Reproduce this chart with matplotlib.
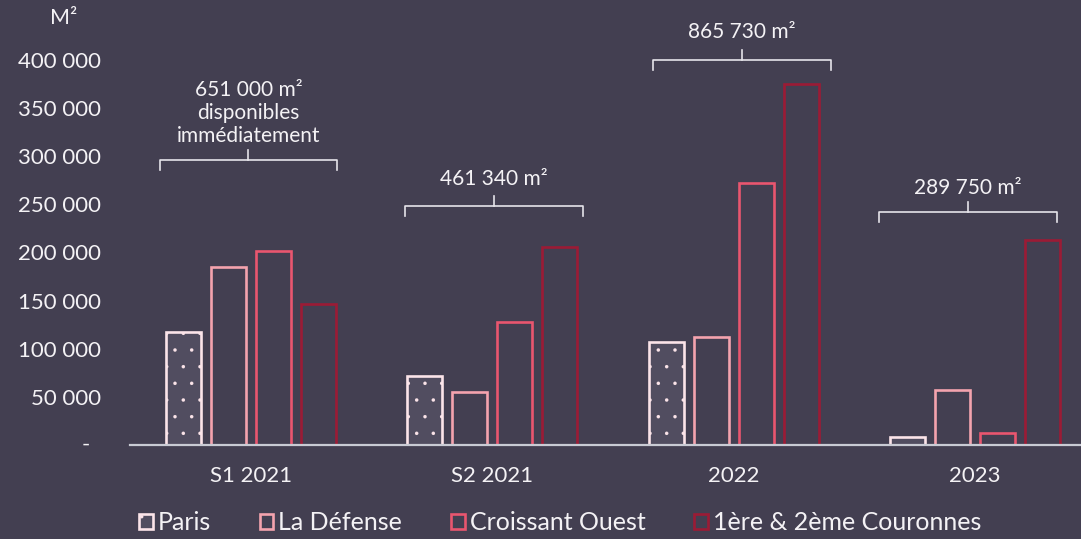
import matplotlib
matplotlib.use("Agg")
import matplotlib.pyplot as plt
from matplotlib.patches import Patch
from matplotlib.ticker import FuncFormatter
import numpy as np

# ---- data ----
periods = ["S1 2021", "S2 2021", "2022", "2023"]
series_names = ["Paris", "La Défense", "Croissant Ouest", "1ère & 2ème Couronnes"]
paris = [117000, 72000, 107000, 8000]
la_defense = [185000, 55000, 112000, 57000]
croissant_ouest = [202000, 128000, 272000, 12000]
couronnes = [147000, 206000, 375000, 213000]
totals_labels = ["651 000 m²\ndisponibles\nimmédiatement", "461 340 m²", "865 730 m²", "289 750 m²"]
y_ticks = [0, 50000, 100000, 150000, 200000, 250000, 300000, 350000, 400000]

# ---- style ----
BG = "#433F51"
TXT = "#F4F2F5"
edge_colors = ["#FBE4E9", "#F4A3AE", "#E9566F", "#9B1B35"]
face_colors = ["#514D60", BG, BG, BG]
hatches = [".", None, None, None]

plt.rcParams['font.family'] = ['Lato', 'DejaVu Sans']
plt.rcParams['hatch.linewidth'] = 0.1

fig = plt.figure(figsize=(10.81, 5.39), dpi=100, facecolor=BG)
ax = fig.add_axes([0.1203, 0.1744, 0.8797, 0.7143])
ax.set_facecolor(BG)

values = [paris, la_defense, croissant_ouest, couronnes]
x = np.arange(len(periods))
step = 0.1865
width = 0.145
for i, (vals, ec, fc, h) in enumerate(zip(values, edge_colors, face_colors, hatches)):
    offs = (i - 1.5) * step
    ax.bar(x + offs, vals, width=width, facecolor=fc, edgecolor=ec,
           linewidth=1.9, hatch=h, zorder=3)

ax.set_xlim(-0.501, 3.44)
ax.set_ylim(0, 400000)
ax.set_yticks(y_ticks)
ax.yaxis.set_major_formatter(FuncFormatter(
    lambda v, p: "" if v == 0 else f"{int(v):,}".replace(",", " ")))
ax.set_xticks(x)
ax.set_xticklabels(periods)
ax.tick_params(axis='y', length=0, pad=21, labelsize=16, labelcolor=TXT)
ax.tick_params(axis='x', length=0, pad=15, labelsize=16, labelcolor=TXT)
for s in ["top", "right", "left"]:
    ax.spines[s].set_visible(False)
ax.spines["bottom"].set_color("#C9CBD4")
ax.spines["bottom"].set_linewidth(1.6)
ax.spines["bottom"].set_zorder(4)

# zero label "-"
ax.text(-0.5 - 45 / 241.3, 0, "-", ha="center", va="center", color=TXT, fontsize=16)

# unit label
fig.text(64 / 1081, 1 - 18 / 539, "M²", ha="center", va="center", color=TXT, fontsize=15.5)

# braces
def px2y(py):
    return (445 - py) / 385 * 400000

brace_left = [-0.377, -0.362, -0.334, -0.397]
brace_right = [0.356, 0.376, 0.404, 0.340]
brace_line_px = [160, 206, 60, 212]
text_px = [113, 179, 32, 188]
for i in range(len(periods)):
    xl, xr = x[i] + brace_left[i], x[i] + brace_right[i]
    yh = px2y(brace_line_px[i])
    ye = px2y(brace_line_px[i] + 10)
    yp = px2y(brace_line_px[i] - 10)
    xm = (xl + xr) / 2
    ax.plot([xl, xl, xr, xr], [ye, yh, yh, ye], color="#E6E4EA", lw=1.2,
            clip_on=False, zorder=5, solid_joinstyle="round")
    ax.plot([xm, xm], [yh, yp], color="#E6E4EA", lw=1.2, clip_on=False, zorder=5)
    ax.text(xm, px2y(text_px[i]), totals_labels[i], ha="center", va="center",
            color=TXT, fontsize=15, linespacing=1.2, clip_on=False)

# legend
handles = [Patch(facecolor=fc, edgecolor=ec, hatch=h, linewidth=1.9)
           for fc, ec, h in zip(face_colors, edge_colors, hatches)]
leg = fig.legend(handles, series_names, loc="center", bbox_to_anchor=(560 / 1081, 16 / 539),
                 ncol=4, frameon=False, handlelength=0.55, handleheight=0.55,
                 handletextpad=0.2, columnspacing=1.95, fontsize=18,
                 labelcolor=TXT, borderaxespad=0, borderpad=0)

fig.savefig("out.png", dpi=100, facecolor=BG)
